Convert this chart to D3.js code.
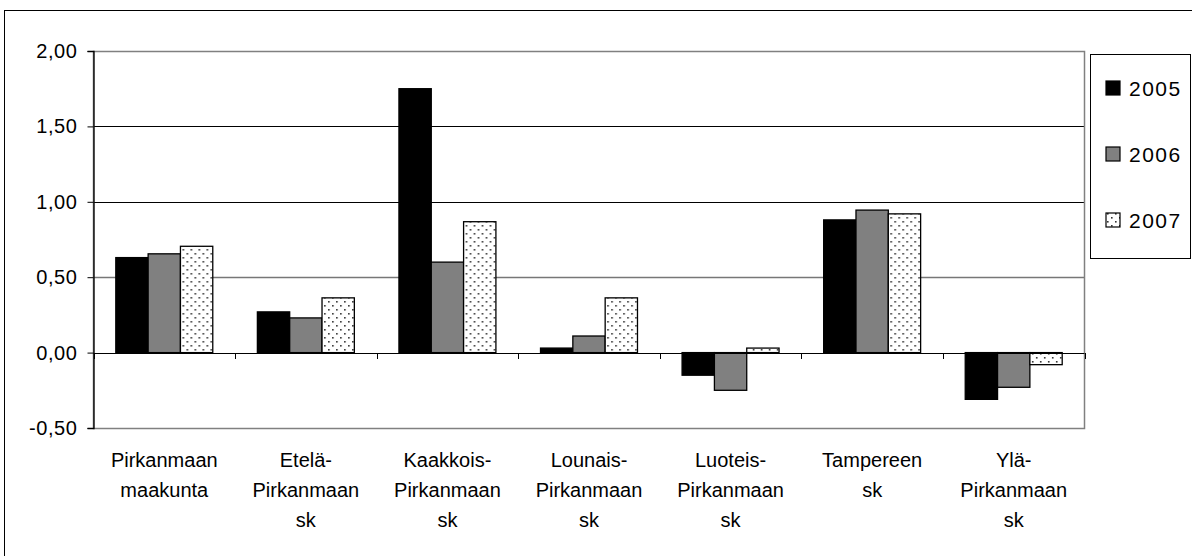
<!DOCTYPE html>
<html>
<head>
<meta charset="utf-8">
<script src="https://cdn.jsdelivr.net/npm/d3@7"></script>
<style>
  html, body { margin: 0; padding: 0; background: #fff; }
  svg { display: block; font-family: "Liberation Sans", Arial, sans-serif; }
</style>
</head>
<body>
<svg id="chart" width="1192" height="556"></svg>
<script>
const categories = [
  ["Pirkanmaan", "maakunta"],
  ["Etelä-", "Pirkanmaan", "sk"],
  ["Kaakkois-", "Pirkanmaan", "sk"],
  ["Lounais-", "Pirkanmaan", "sk"],
  ["Luoteis-", "Pirkanmaan", "sk"],
  ["Tampereen", "sk"],
  ["Ylä-", "Pirkanmaan", "sk"]
];
const seriesNames = ["2005", "2006", "2007"];
const values2005 = [0.63, 0.27, 1.75, 0.03, -0.15, 0.88, -0.31];
const values2006 = [0.655, 0.23, 0.60, 0.11, -0.25, 0.945, -0.23];
const values2007 = [0.705, 0.363, 0.868, 0.363, 0.03, 0.92, -0.08];
const yTicks = [-0.5, 0, 0.5, 1.0, 1.5, 2.0];

const series = [values2005, values2006, values2007];
const svg = d3.select("#chart");

// patterns
const defs = svg.append("defs");
const pat = defs.append("pattern").attr("id", "dots").attr("patternUnits", "userSpaceOnUse")
  .attr("width", 8).attr("height", 8);
pat.append("rect").attr("width", 8).attr("height", 8).attr("fill", "#fff");
pat.append("rect").attr("x", 1).attr("y", 1).attr("width", 1.6).attr("height", 1.6).attr("fill", "#333");
pat.append("rect").attr("x", 5).attr("y", 5).attr("width", 1.6).attr("height", 1.6).attr("fill", "#333");

const fills = ["#000000", "#808080", "url(#dots)"];

// outer frame
svg.append("rect").attr("x", 4.5).attr("y", 10.5).attr("width", 1200).attr("height", 600)
  .attr("fill", "none").attr("stroke", "#000").attr("stroke-width", 1);

const plot = { left: 93.5, right: 1084.5, top: 51, bottom: 428 };

const x = d3.scaleBand().domain(d3.range(categories.length)).range([plot.left, plot.right]).padding(0);
const x1 = d3.scaleBand().domain(d3.range(seriesNames.length)).range([0, x.bandwidth()]).paddingInner(0).paddingOuter(0.69);
const y = d3.scaleLinear().domain([-0.5, 2.0]).range([plot.bottom, plot.top]);

// gridlines
svg.append("g").selectAll("line").data(yTicks.filter(t => t !== 0 && t !== -0.5 && t !== 2.0)).join("line")
  .attr("x1", plot.left).attr("x2", plot.right)
  .attr("y1", d => Math.round(y(d)) + 0.5).attr("y2", d => Math.round(y(d)) + 0.5)
  .attr("stroke", d => d === 0.5 ? "#777" : "#000").attr("stroke-width", d => d === 0.5 ? 1.5 : 1);

// plot border
svg.append("rect").attr("x", plot.left).attr("y", Math.round(y(2.0)) + 0.5)
  .attr("width", plot.right - plot.left).attr("height", Math.round(y(-0.5)) - Math.round(y(2.0)))
  .attr("fill", "none").attr("stroke", "#808080").attr("stroke-width", 1.5);

// bars
const groups = svg.append("g").selectAll("g").data(categories).join("g")
  .attr("transform", (d, i) => `translate(${x(i)},0)`);
groups.selectAll("rect").data((d, i) => series.map((s, k) => ({ k, v: s[i] }))).join("rect")
  .attr("x", d => x1(d.k))
  .attr("width", x1.bandwidth())
  .attr("y", d => y(Math.max(0, d.v)))
  .attr("height", d => Math.abs(y(d.v) - y(0)))
  .attr("fill", d => fills[d.k])
  .attr("stroke", "#000").attr("stroke-width", 1.3);

// y axis
const yAxis = d3.axisLeft(y).tickValues(yTicks).tickSize(6).tickPadding(10)
  .tickFormat(d => d3.format(".2f")(d).replace(".", ",").replace("\u2212", "-"));
const ya = svg.append("g").attr("transform", `translate(${plot.left},0)`).call(yAxis);
ya.select(".domain").attr("stroke", "#000").attr("stroke-width", 1.3);
ya.selectAll(".tick line").attr("stroke", "#000");
ya.selectAll(".tick text").attr("font-size", 20).attr("fill", "#000")
  .attr("font-family", "Liberation Sans, Arial, sans-serif").attr("letter-spacing", 0.6);

// zero axis with category ticks
const xTickPos = d3.range(categories.length + 1).map(i => plot.left + i * x.bandwidth());
const za = svg.append("g");
za.append("line").attr("x1", plot.left).attr("x2", plot.right)
  .attr("y1", Math.round(y(0)) + 0.5).attr("y2", Math.round(y(0)) + 0.5)
  .attr("stroke", "#000").attr("stroke-width", 1.2);
za.selectAll("line.t").data(xTickPos).join("line").attr("class", "t")
  .attr("x1", d => Math.round(d) + 0.5).attr("x2", d => Math.round(d) + 0.5)
  .attr("y1", Math.round(y(0))).attr("y2", Math.round(y(0)) + 6)
  .attr("stroke", "#000").attr("stroke-width", 1);

// category labels
const labels = svg.append("g").selectAll("text").data(categories).join("text")
  .attr("text-anchor", "middle").attr("font-size", 20).attr("fill", "#000")
  .attr("transform", (d, i) => `translate(${x(i) + x.bandwidth() / 2},467)`);
labels.selectAll("tspan").data(d => d).join("tspan")
  .attr("x", 0).attr("y", (d, i) => i * 30).text(d => d);

// legend
const legend = svg.append("g");
legend.append("rect").attr("x", 1090.5).attr("y", 54.5).attr("width", 100).attr("height", 204)
  .attr("fill", "#fff").attr("stroke", "#000").attr("stroke-width", 1);
const li = legend.selectAll("g").data(seriesNames).join("g")
  .attr("transform", (d, i) => `translate(1106,${88 + i * 66})`);
li.append("rect").attr("x", 0).attr("y", -7).attr("width", 14).attr("height", 14)
  .attr("fill", (d, i) => fills[i]).attr("stroke", "#000").attr("stroke-width", 1.2);
li.append("text").attr("x", 23).attr("y", 7.5).attr("font-size", 21).attr("letter-spacing", 1.5)
  .attr("fill", "#000").text(d => d);
</script>
</body>
</html>
